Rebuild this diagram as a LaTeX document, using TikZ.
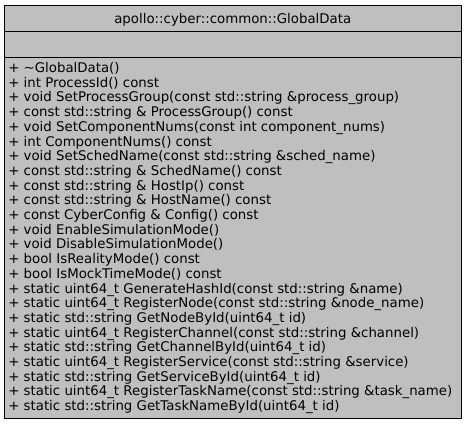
\documentclass[tikz,border=0pt]{standalone}
\usepackage{fontspec}
\setmainfont{DejaVu Sans}
\usepackage{tikz}
\definecolor{classgray}{HTML}{BFBFBF}

\begin{document}
\begin{tikzpicture}[x=0.75pt,y=-0.75pt]
\tikzstyle{every node}+=[inner sep=0pt, font=\fontsize{10pt}{12pt}\selectfont]
\useasboundingbox (0,0) rectangle (467,425);
% class box
\draw [black, fill=classgray] (4,5) rectangle (461.5,418.5);
\draw [black] (4,31) -- (461.5,31);
\draw [black] (4,57) -- (461.5,57);
\draw (232.75,23) node [anchor=base] (title) {apollo::cyber::common::GlobalData};
% members
\foreach \m [count=\i] in {
  {\textasciitilde GlobalData()},
  {int ProcessId() const},
  {void SetProcessGroup(const std::string \&process\_group)},
  {const std::string \& ProcessGroup() const},
  {void SetComponentNums(const int component\_nums)},
  {int ComponentNums() const},
  {void SetSchedName(const std::string \&sched\_name)},
  {const std::string \& SchedName() const},
  {const std::string \& HostIp() const},
  {const std::string \& HostName() const},
  {const CyberConfig \& Config() const},
  {void EnableSimulationMode()},
  {void DisableSimulationMode()},
  {bool IsRealityMode() const},
  {bool IsMockTimeMode() const},
  {static uint64\_t GenerateHashId(const std::string \&name)},
  {static uint64\_t RegisterNode(const std::string \&node\_name)},
  {static std::string GetNodeById(uint64\_t id)},
  {static uint64\_t RegisterChannel(const std::string \&channel)},
  {static std::string GetChannelById(uint64\_t id)},
  {static uint64\_t RegisterService(const std::string \&service)},
  {static std::string GetServiceById(uint64\_t id)},
  {static uint64\_t RegisterTaskName(const std::string \&task\_name)},
  {static std::string GetTaskNameById(uint64\_t id)}}
  \draw (8,{72.5+14.7*(\i-1)}) node [anchor=base west] (m\i) {+ \m};
\end{tikzpicture}
\end{document}
